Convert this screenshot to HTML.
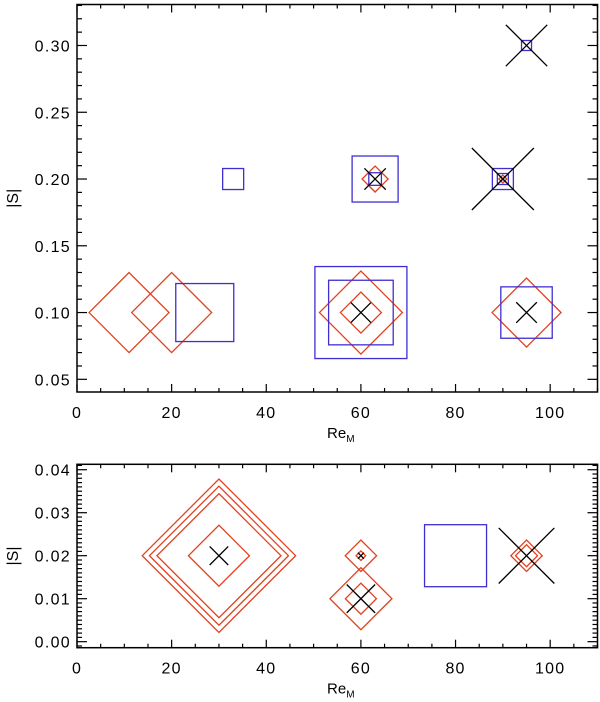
<!DOCTYPE html>
<html><head><meta charset="utf-8"><style>
html,body{margin:0;padding:0;background:#fff;}
svg{display:block;font-family:"Liberation Sans",Arial,sans-serif;}
</style></head><body>
<svg id="chart" width="600" height="702" viewBox="0 0 600 702" xmlns="http://www.w3.org/2000/svg"></svg>
<script>
// ---- data (Re_M, |S|, marker half-size in px) ----
const topDiamondX = [11, 20, 63, 90, 60, 60, 95];
const topDiamondY = [0.10, 0.10, 0.20, 0.20, 0.10, 0.10, 0.10];
const topDiamondR = [40, 40, 13, 4, 41.5, 20.5, 34.5];
const topSquareX = [27, 33, 63, 63, 90, 90, 60, 60, 95, 95];
const topSquareY = [0.10, 0.20, 0.20, 0.20, 0.20, 0.20, 0.10, 0.10, 0.10, 0.30];
const topSquareR = [29, 10.5, 23, 6.3, 10.5, 5.5, 46, 32.3, 25.7, 5];
const topCrossX = [63, 90, 90, 60, 95, 95];
const topCrossY = [0.20, 0.20, 0.20, 0.10, 0.10, 0.30];
const topCrossR = [10.7, 31, 3, 10, 10.3, 20.7];
const topYTicks = [0.05, 0.10, 0.15, 0.20, 0.25, 0.30];
const topYLabels = ["0.05", "0.10", "0.15", "0.20", "0.25", "0.30"];

const botDiamondX = [30, 30, 30, 30, 60, 60, 60, 60, 95, 95];
const botDiamondY = [0.02, 0.02, 0.02, 0.02, 0.02, 0.02, 0.01, 0.01, 0.02, 0.02];
const botDiamondR = [76.7, 69.5, 62, 30.5, 15.7, 4.8, 31, 15.5, 15.7, 11];
const botSquareX = [80];
const botSquareY = [0.02];
const botSquareR = [31];
const botCrossX = [30, 60, 60, 95];
const botCrossY = [0.02, 0.02, 0.01, 0.02];
const botCrossR = [9.3, 3, 14.2, 27.8];
const botYTicks = [0.00, 0.01, 0.02, 0.03, 0.04];
const botYLabels = ["0.00", "0.01", "0.02", "0.03", "0.04"];

const xTicks = [0, 20, 40, 60, 80, 100];
const xLabels = ["0", "20", "40", "60", "80", "100"];

const NS = "http://www.w3.org/2000/svg";
const svg = document.getElementById('chart');
const RED = "#e2401e", BLUE = "#3f2fd0", BLACK = "#000";

function mk(tag, attrs, parent) {
  const e = document.createElementNS(NS, tag);
  for (const k in attrs) e.setAttribute(k, attrs[k]);
  parent.appendChild(e);
  return e;
}

function panel(name, box, xr, yr, yMinor, xs, ys) {
  const g = mk('g', {}, svg);
  
  
  const sx = v => box.l + (v - xr[0]) / (xr[1] - xr[0]) * (box.r - box.l);
  const sy = v => box.b - (v - yr[0]) / (yr[1] - yr[0]) * (box.b - box.t);
  const frame = mk('rect', {x: box.l, y: box.t, width: box.r - box.l, height: box.b - box.t, fill: 'none', stroke: '#000', 'stroke-width': 1.5}, g);
  
  
  // x ticks
  const ax = mk('g', {stroke: '#000', 'stroke-width': 1.2}, g);
  
  
  for (let v = xr[0]; v <= xr[1] + 1e-9; v += 5) {
    const major = Math.abs(v % 20) < 1e-9;
    const len = major ? 8 : 4;
    const x = sx(v);
    mk('line', {x1: x, x2: x, y1: box.b, y2: box.b - len}, ax);
    mk('line', {x1: x, x2: x, y1: box.t, y2: box.t + len}, ax);
  }
  const ay = mk('g', {stroke: '#000', 'stroke-width': 1.2}, g);
  
  
  const start = Math.ceil(yr[0] / yMinor - 1e-6);
  const end = Math.floor(yr[1] / yMinor + 1e-6);
  const majorStep = xs.step;
  for (let i = start; i <= end; i++) {
    const v = i * yMinor;
    const major = Math.abs(Math.round(v / majorStep) * majorStep - v) < yMinor * 0.01;
    const len = major ? 10 : 5;
    const y = sy(v);
    mk('line', {x1: box.l, x2: box.l + len, y1: y, y2: y}, ay);
    mk('line', {x1: box.r, x2: box.r - len, y1: y, y2: y}, ay);
  }
  xTicks.forEach((v, i) => {
    const t = mk('text', {x: sx(v), y: box.b + 26, 'text-anchor': 'middle', 'font-size': 16, 'letter-spacing': 1.2}, g);
    t.textContent = xLabels[i];
    
    
  });
  xs.ticks.forEach((v, i) => {
    const t = mk('text', {x: 71, y: sy(v) + 6, 'text-anchor': 'end', 'font-size': 16, 'letter-spacing': 1.3}, g);
    t.textContent = xs.labels[i];
    
    
  });
  const xt = mk('text', {x: 327, y: box.b + 46, 'font-size': 15}, g);
  xt.textContent = 'Re';
  
  
  const sub = mk('tspan', {'font-size': 10, dy: 4}, xt);
  sub.textContent = 'M';
  const ytl = (box.t + box.b) / 2;
  const yt = mk('text', {x: 0, y: 0, 'text-anchor': 'middle', 'font-size': 16, transform: `translate(18 ${ytl}) rotate(-90)`}, g);
  yt.textContent = '|S|';
  
  
  // marks
  const m = mk('g', {fill: 'none', 'stroke-width': 1.3}, g);
  
  
  ys.dX.forEach((v, i) => {
    const cx = sx(v), cy = sy(ys.dY[i]), r = ys.dR[i];
    const p = mk('polygon', {points: `${cx - r},${cy} ${cx},${cy - r} ${cx + r},${cy} ${cx},${cy + r}`, stroke: RED}, m);
    
    
  });
  ys.sX.forEach((v, i) => {
    const cx = sx(v), cy = sy(ys.sY[i]), r = ys.sR[i];
    const p = mk('rect', {x: cx - r, y: cy - r, width: 2 * r, height: 2 * r, stroke: BLUE}, m);
    
    
  });
  ys.cX.forEach((v, i) => {
    const cx = sx(v), cy = sy(ys.cY[i]), r = ys.cR[i];
    const p = mk('path', {d: `M${cx - r},${cy - r}L${cx + r},${cy + r}M${cx - r},${cy + r}L${cx + r},${cy - r}`, stroke: BLACK}, m);
    
    
  });
}

panel('top-panel', {l: 77, r: 597.5, t: 4.5, b: 392}, [0, 110], [0.0405, 0.3307], 0.01,
  {ticks: topYTicks, labels: topYLabels, step: 0.05},
  {dX: topDiamondX, dY: topDiamondY, dR: topDiamondR, sX: topSquareX, sY: topSquareY, sR: topSquareR, cX: topCrossX, cY: topCrossY, cR: topCrossR});

panel('bottom-panel', {l: 77, r: 597.5, t: 464.3, b: 647.7}, [0, 110], [-0.0014, 0.04126], 0.001,
  {ticks: botYTicks, labels: botYLabels, step: 0.01},
  {dX: botDiamondX, dY: botDiamondY, dR: botDiamondR, sX: botSquareX, sY: botSquareY, sR: botSquareR, cX: botCrossX, cY: botCrossY, cR: botCrossR});
</script>
</body></html>
